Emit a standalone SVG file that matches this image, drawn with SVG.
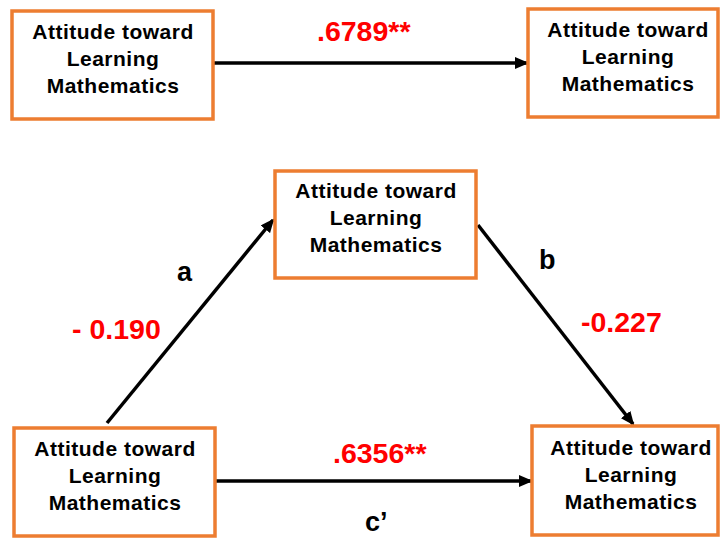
<svg xmlns="http://www.w3.org/2000/svg" width="720" height="538" viewBox="0 0 720 538">
<style>
.box{fill:#fff;stroke:#ED7D31;stroke-width:3.5}
.nt{font-family:"Liberation Sans",Arial,sans-serif;font-weight:bold;font-size:21px;letter-spacing:0.5px;fill:#000;text-anchor:middle}
.val{font-family:"Liberation Sans",Arial,sans-serif;font-weight:bold;font-size:28.5px;fill:#FF0000}
.lab{font-family:"Liberation Sans",Arial,sans-serif;font-weight:bold;font-size:27px;fill:#000}
.con{stroke:#000;stroke-width:3.5;fill:none;marker-end:url(#ah)}
</style>
<defs>
<marker id="ah" markerUnits="userSpaceOnUse" markerWidth="14" markerHeight="12" viewBox="0 0 14 12" refX="12" refY="6" orient="auto">
<path d="M0,0 L14,6 L0,12 Z" fill="#000"/>
</marker>
</defs>
<rect width="720" height="538" fill="#fff"/>
<g id="connectors">
<line class="con" x1="213" y1="63" x2="527" y2="63"/>
<line class="con" x1="107" y1="423" x2="273" y2="220"/>
<line class="con" x1="478" y1="225" x2="633" y2="424"/>
<line class="con" x1="215" y1="481" x2="531" y2="481"/>
</g>
<g id="n1">
<rect class="box" x="12" y="11" width="201" height="108"/>
<text class="nt" x="113" y="39">Attitude toward</text>
<text class="nt" x="113" y="66">Learning</text>
<text class="nt" x="113" y="93">Mathematics</text>
</g>
<g id="n2">
<rect class="box" x="528" y="9" width="190" height="108"/>
<text class="nt" x="628" y="37">Attitude toward</text>
<text class="nt" x="628" y="64">Learning</text>
<text class="nt" x="628" y="91">Mathematics</text>
</g>
<g id="n3">
<rect class="box" x="275" y="171" width="201" height="107"/>
<text class="nt" x="376" y="198">Attitude toward</text>
<text class="nt" x="376" y="225">Learning</text>
<text class="nt" x="376" y="252">Mathematics</text>
</g>
<g id="n4">
<rect class="box" x="14" y="428" width="201" height="108"/>
<text class="nt" x="115" y="456">Attitude toward</text>
<text class="nt" x="115" y="483">Learning</text>
<text class="nt" x="115" y="510">Mathematics</text>
</g>
<g id="n5">
<rect class="box" x="532" y="426" width="186" height="109"/>
<text class="nt" x="631" y="455">Attitude toward</text>
<text class="nt" x="631" y="482">Learning</text>
<text class="nt" x="631" y="509">Mathematics</text>
</g>
<g id="labels">
<text class="val" x="317" y="41">.6789**</text>
<text class="lab" x="177" y="281">a</text>
<text class="val" x="72" y="339">- 0.190</text>
<text class="lab" x="539" y="269">b</text>
<text class="val" x="581" y="332">-0.227</text>
<text class="val" x="333" y="463">.6356**</text>
<text class="lab" x="365" y="531">c’</text>
</g>
</svg>
